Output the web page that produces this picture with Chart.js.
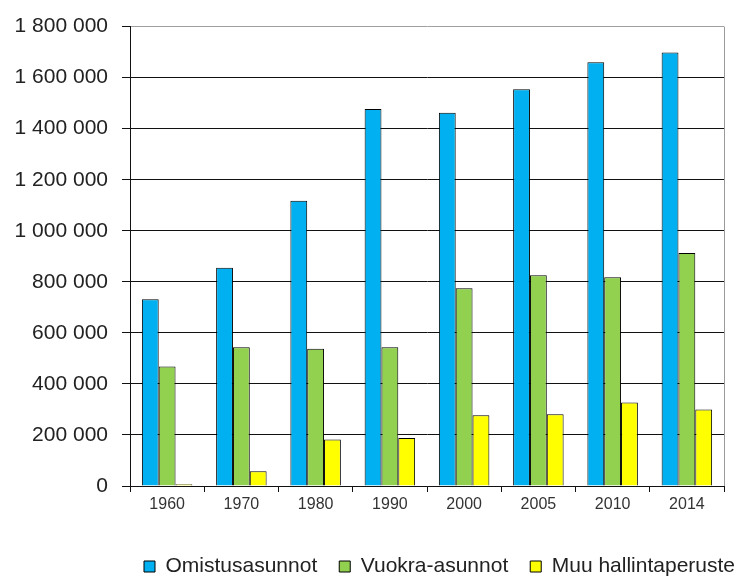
<!DOCTYPE html>
<html>
<head>
<meta charset="utf-8">
<script src="https://cdn.jsdelivr.net/npm/chart.js@4.4.1/dist/chart.umd.min.js"></script>
<style>
  body { margin: 0; background: #fff; }
  #wrap { width: 741px; height: 576px; }
</style>
</head>
<body>
<div id="wrap"><canvas id="housing_Chart" width="741" height="576"></canvas></div>
<script>
const years = ['1960', '1970', '1980', '1990', '2000', '2005', '2010', '2014'];
const omistus = [732000, 855000, 1118000, 1477000, 1462000, 1555000, 1660000, 1699000];
const vuokra = [468000, 544000, 538000, 544000, 775000, 826000, 818000, 913000];
const muu = [7000, 58000, 182000, 188000, 277000, 281000, 327000, 300000];
const seriesNames = ['Omistusasunnot', 'Vuokra-asunnot', 'Muu hallintaperuste'];

Chart.defaults.font.family = "'Liberation Sans', Arial, sans-serif";

function format_thousands(value) {
    return value.toString().replace(/\B(?=(\d{3})+(?!\d))/g, ' ');
}

// legend: trim the bottom of its box, then shift the row to the right
const legendPlacement = {
    id: 'legendPlacement',
    beforeInit(chart) {
        const legend = chart.legend;
        const fit = legend.fit;
        legend.fit = function () {
            fit.call(this);
            this.height -= 11;
        };
    },
    afterLayout(chart) {
        const legend = chart.legend;
        legend.left = 122;
        legend.right = 800;
        legend.width = legend.right - legend.left;
    }
};

const housing_chart = document.querySelector('#housing_Chart').getContext('2d');

let chartData = {
    labels: years,
    datasets: [{
        label: seriesNames[0],
        data: omistus,
        backgroundColor: '#00b0f0',
        borderColor: '#000',
        borderWidth: 1
    }, {
        label: seriesNames[1],
        data: vuokra,
        backgroundColor: '#92d050',
        borderColor: '#000',
        borderWidth: 1
    }, {
        label: seriesNames[2],
        data: muu,
        backgroundColor: '#ffff00',
        borderColor: '#000',
        borderWidth: 1
    }]
};

let options = {
    responsive: false,
    animation: false,
    layout: {
        padding: { top: 24, left: 0, right: 17, bottom: 0 }
    },
    datasets: {
        bar: { categoryPercentage: 0.68, barPercentage: 1.0 }
    },
    scales: {
        x: {
            afterFit(scale) { scale.height = 48; },
            ticks: {
                padding: 3,
                color: '#333',
                font: { size: 16 }
            },
            grid: {
                offset: true,
                drawOnChartArea: true,
                color: ctx => ctx.tick ? 'rgba(0,0,0,0)' : '#9a9a9a',
                tickColor: '#111',
                tickLength: 6
            },
            border: { color: '#111', width: 1 }
        },
        y: {
            min: 0,
            max: 1800000,
            afterFit(scale) { scale.width = 130; },
            ticks: {
                stepSize: 200000,
                padding: 14,
                color: '#222',
                font: { size: 21 },
                callback: value => format_thousands(value)
            },
            grid: {
                color: ctx => (ctx.tick && ctx.tick.value === 1800000) ? '#a0a0a0' : '#111',
                tickColor: '#111',
                tickLength: 8,
                lineWidth: 1
            },
            border: { color: '#111', width: 1 }
        }
    },
    plugins: {
        legend: {
            position: 'bottom',
            align: 'start',
            labels: {
                boxWidth: 11,
                boxHeight: 11,
                padding: 22,
                color: '#222',
                font: { size: 21 }
            }
        },
        tooltip: { enabled: false }
    }
};

let chart = new Chart(housing_chart, {
    type: 'bar',
    data: chartData,
    options: options,
    plugins: [legendPlacement]
});
</script>
</body>
</html>
